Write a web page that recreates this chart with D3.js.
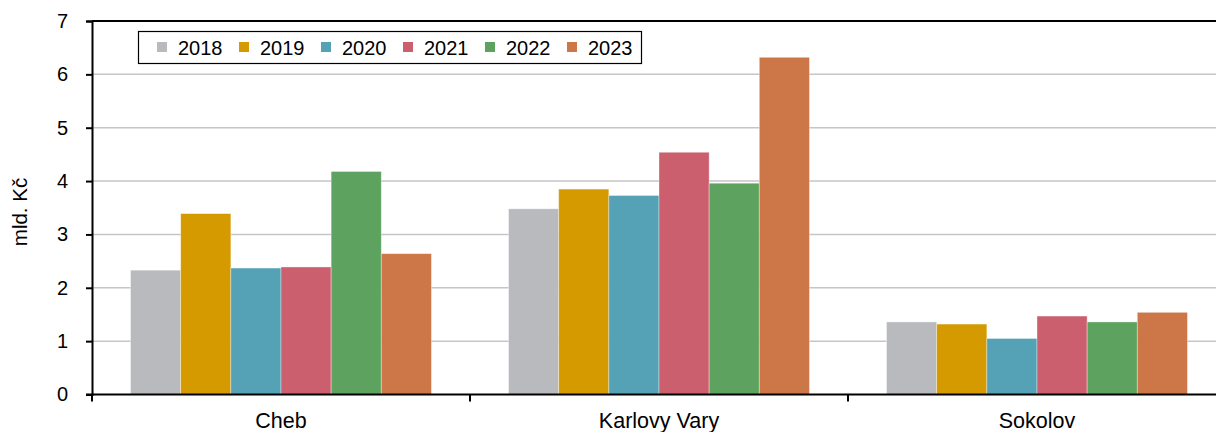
<!DOCTYPE html>
<html>
<head>
<meta charset="utf-8">
<script src="https://cdn.jsdelivr.net/npm/d3@7"></script>
<style>
  html, body { margin: 0; padding: 0; background: #fff; }
  svg { display: block; font-family: "Liberation Sans", Arial, sans-serif; }
</style>
</head>
<body>
<svg id="chart" width="1216" height="432"></svg>
<script>
// Districts of the Karlovy Vary region and yearly totals (mld. Kč)
const districts = ["Cheb", "Karlovy Vary", "Sokolov"];
const years = ["2018", "2019", "2020", "2021", "2022", "2023"];
const values2018 = [2.33, 3.48, 1.36];
const values2019 = [3.39, 3.85, 1.32];
const values2020 = [2.37, 3.73, 1.05];
const values2021 = [2.39, 4.54, 1.47];
const values2022 = [4.18, 3.96, 1.36];
const values2023 = [2.64, 6.32, 1.54];
const yTicks = [0, 1, 2, 3, 4, 5, 6, 7];
const yLabel = "mld. Kč";
const colors = ["#b8babe", "#d49a00", "#55a1b5", "#cb5f6e", "#5ea25f", "#cd7748"];

const seriesValues = [values2018, values2019, values2020, values2021, values2022, values2023];
const rows = [];
districts.forEach((d, i) => {
  years.forEach((yr, j) => rows.push({ district: d, year: yr, value: seriesValues[j][i] }));
});

const svg = d3.select("#chart");
const plotLeft = 92, plotRight = 1226, plotTop = 21, plotBottom = 394.5;

const x0 = d3.scaleBand().domain(districts).range([plotLeft, plotRight])
  .paddingInner(0.204).paddingOuter(0.102);
const x1 = d3.scaleBand().domain(years).range([0, x0.bandwidth()]);
const y = d3.scaleLinear().domain([0, 7]).range([plotBottom, plotTop]);
const color = d3.scaleOrdinal().domain(years).range(colors);

// horizontal gridlines
svg.append("g")
  .selectAll("line")
  .data(yTicks.filter(t => t > 0 && t < 7))
  .join("line")
  .attr("x1", plotLeft).attr("x2", 1216)
  .attr("y1", d => y(d)).attr("y2", d => y(d))
  .attr("stroke", "#c6c6c6").attr("stroke-width", 1.5);

// bars
svg.append("g")
  .selectAll("rect")
  .data(rows)
  .join("rect")
  .attr("x", d => x0(d.district) + x1(d.year))
  .attr("y", d => y(d.value))
  .attr("width", x1.bandwidth())
  .attr("height", d => y(0) - y(d.value))
  .attr("fill", d => color(d.year))
  .attr("stroke", "rgba(255,255,255,0.45)")
  .attr("stroke-width", 0.8);

// top frame line
svg.append("line")
  .attr("x1", plotLeft).attr("x2", 1216)
  .attr("y1", plotTop).attr("y2", plotTop)
  .attr("stroke", "#000").attr("stroke-width", 2);

// y axis
const yAxis = svg.append("g")
  .attr("transform", `translate(${plotLeft},0)`)
  .call(d3.axisLeft(y).tickValues(yTicks).tickFormat(d3.format("d")).tickSize(6).tickPadding(18));
yAxis.select(".domain").attr("stroke", "#000").attr("stroke-width", 2);
yAxis.selectAll(".tick line").attr("stroke", "#000").attr("stroke-width", 2);
yAxis.selectAll(".tick text")
  .attr("font-size", 20).attr("fill", "#000")
  .attr("font-family", "Liberation Sans, Arial, sans-serif");

// x axis with ticks between district groups
const xAxisG = svg.append("g").attr("transform", `translate(0,${plotBottom})`);
xAxisG.append("line")
  .attr("x1", plotLeft - 6).attr("x2", 1216)
  .attr("stroke", "#000").attr("stroke-width", 2);
xAxisG.selectAll("line.sep")
  .data(districts)
  .join("line")
  .attr("class", "sep")
  .attr("x1", d => x0(d) - (x0.step() - x0.bandwidth()) / 2)
  .attr("x2", d => x0(d) - (x0.step() - x0.bandwidth()) / 2)
  .attr("y1", 0).attr("y2", 7)
  .attr("stroke", "#000").attr("stroke-width", 2);
xAxisG.selectAll("text")
  .data(districts)
  .join("text")
  .attr("x", d => x0(d) + x0.bandwidth() / 2)
  .attr("y", 33.5)
  .attr("text-anchor", "middle")
  .attr("font-size", 21.5)
  .attr("fill", "#000")
  .text(d => d);

// y axis title
svg.append("text")
  .attr("transform", "translate(27,212) rotate(-90)")
  .attr("text-anchor", "middle")
  .attr("font-size", 20.5)
  .attr("fill", "#000")
  .text(yLabel);

// legend
const legend = svg.append("g");
legend.append("rect")
  .attr("x", 138.5).attr("y", 31.5)
  .attr("width", 503).attr("height", 32)
  .attr("fill", "#fff").attr("stroke", "#000").attr("stroke-width", 1.2);
const item = legend.selectAll("g.item")
  .data(years)
  .join("g")
  .attr("class", "item")
  .attr("transform", (d, i) => `translate(${157 + i * 82},0)`);
item.append("rect")
  .attr("x", 0).attr("y", 42).attr("width", 10).attr("height", 10)
  .attr("fill", d => color(d));
item.append("text")
  .attr("x", 21).attr("y", 54.5)
  .attr("font-size", 20)
  .attr("fill", "#000")
  .text(d => d);
</script>
</body>
</html>
